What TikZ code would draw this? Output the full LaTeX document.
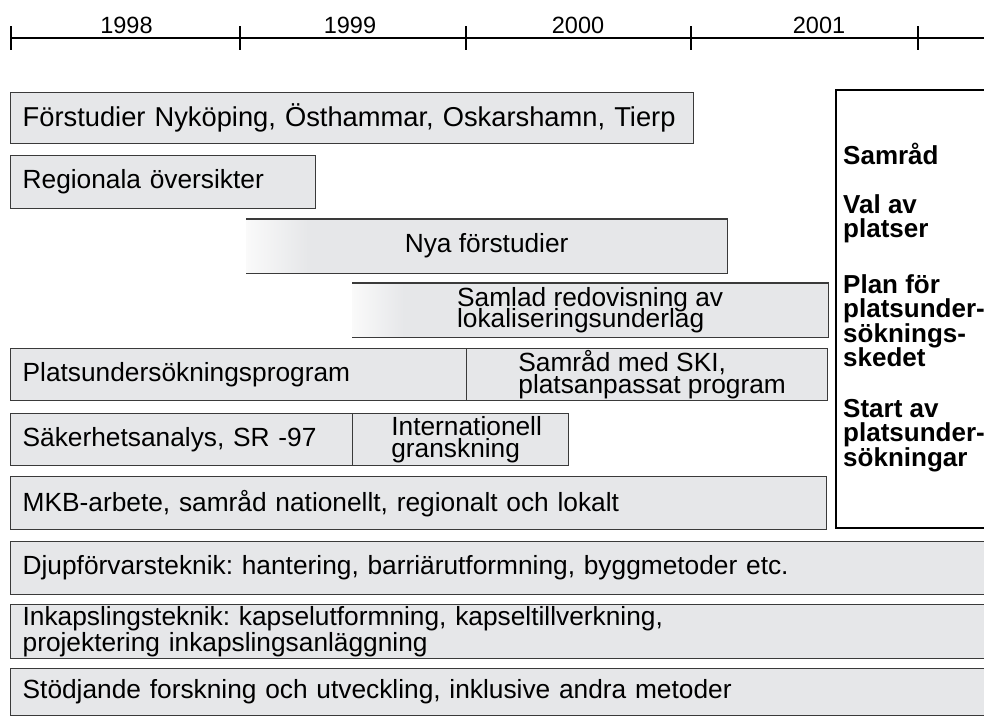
\documentclass[tikz,border=0pt]{standalone}
\usepackage{fontspec}
\setmainfont{Liberation Sans}
\usetikzlibrary{calc,backgrounds}
\definecolor{barfill}{HTML}{E6E7E9}
\definecolor{gradstart}{HTML}{FAFAFA}
\definecolor{barline}{HTML}{3A3A3A}
\newcommand{\mystrut}{\rule{0pt}{25pt}}
\AtBeginDocument{\lineskiplimit=-30pt\relax\frenchspacing}
\tikzset{
  bar/.style={draw=barline, line width=1.3pt, fill=barfill, anchor=north west,
    inner xsep=12pt, inner ysep=0pt, font=\fontsize{26.3}{21.5}\selectfont},
  openbar/.style={bar, draw=none, fill=none},
  yearlbl/.style={font=\fontsize{23.5}{23.5}\selectfont, inner sep=0pt, anchor=base},
  tickline/.style={line width=1.3pt, black},
  sidetext/.style={anchor=north west, align=left, inner sep=0pt,
    font=\bfseries\fontsize{26}{24.5}\selectfont}
}
\begin{document}
\begin{tikzpicture}[x=1pt,y=-1pt]
\useasboundingbox (0,0) rectangle (984,716);
% time axis
\coordinate (a0) at (10,38);
\coordinate (aend) at (990,38);
\draw[line width=2.8pt] (a0) -- (aend);
\foreach \x in {11,240,466,691,918}{
  \draw[tickline] (\x,26) -- (\x,50);
}
\node[yearlbl] (y98) at (126.5,33) {1998};
\node[yearlbl] (y99) at (350,33) {1999};
\node[yearlbl] (y00) at (578,33) {2000};
\node[yearlbl] (y01) at (819,33) {2001};

% bars
\node[bar, minimum height=51, text width=659, align=left, font=\fontsize{27.3}{21}\selectfont] (fs) at (10,92)
  {\mbox{Förstudier Nyköping, Östhammar, Oskarshamn, Tierp}};
\node[bar, minimum height=53, text width=281, align=left] (reg) at (10,155)
  {Regionala översikter};
\node[openbar, minimum height=53, minimum width=480, align=center] (nya) at (246,219)
  {Nya förstudier};
\node[openbar, minimum height=53, minimum width=475, align=left] (sam) at (352,283)
  {Samlad redovisning av\\lokaliseringsunderlag};
\node[bar, minimum height=52, minimum width=361, align=left] (ski) at (466,348)
  {\hspace*{10pt}Samråd med SKI,\\\hspace*{10pt}platsanpassat program};
\node[bar, minimum height=52, text width=432, align=left] (psp) at (10,348)
  {Platsundersökningsprogram};
\node[bar, minimum height=52, minimum width=216, align=left] (int) at (352,413)
  {\hspace*{12pt}Internationell\\\hspace*{12pt}granskning};
\node[bar, minimum height=52, text width=318, align=left] (sak) at (10,413)
  {Säkerhetsanalys, SR -97};
\node[bar, minimum height=53, text width=792, align=left] (mkb) at (10,476)
  {MKB-arbete, samråd nationellt, regionalt och lokalt};
\node[bar, minimum height=53, text width=966, align=left] (djup) at (10,541)
  {Djupförvarsteknik: hantering, barriärutformning, byggmetoder etc.};
\node[bar, minimum height=54, text width=966, align=left, font=\fontsize{26.3}{20.5}\selectfont] (inkap) at (10,604)
  {Inkapslingsteknik: kapselutformning, kapseltillverkning,\\projektering inkapslingsanläggning};
\node[bar, minimum height=47, text width=966, align=left] (stod) at (10,668)
  {Stödjande forskning och utveckling, inklusive andra metoder};

% faded bars: fills behind, then open outline
\begin{scope}[on background layer]
  \fill[barfill] (nya.north west) rectangle (nya.south east);
  \shade[left color=gradstart, right color=barfill] (nya.north west) rectangle ($(nya.south west)+(62,0)$);
  \fill[barfill] (sam.north west) rectangle (sam.south east);
  \shade[left color=gradstart, right color=barfill] (sam.north west) rectangle ($(sam.south west)+(52,0)$);
\end{scope}
\draw[barline, line width=1.3pt] (nya.north west) -- (nya.north east) -- (nya.south east) -- (nya.south west);
\draw[barline, line width=1.3pt] (sam.north west) -- (sam.north east) -- (sam.south east) -- (sam.south west);

% right box
\draw[line width=2.8pt] (994,90) -- (836,90) -- (836,528) -- (994,528);
\node[sidetext] (s1) at (843,139) {\mystrut Samråd};
\node[sidetext] (s2) at (843,188) {\mystrut Val av\\platser};
\node[sidetext] (s3) at (843,268) {\mystrut Plan för\\platsunder-\\söknings-\\skedet};
\node[sidetext] (s4) at (843,392) {\mystrut Start av\\platsunder-\\sökningar};
\end{tikzpicture}
\end{document}
